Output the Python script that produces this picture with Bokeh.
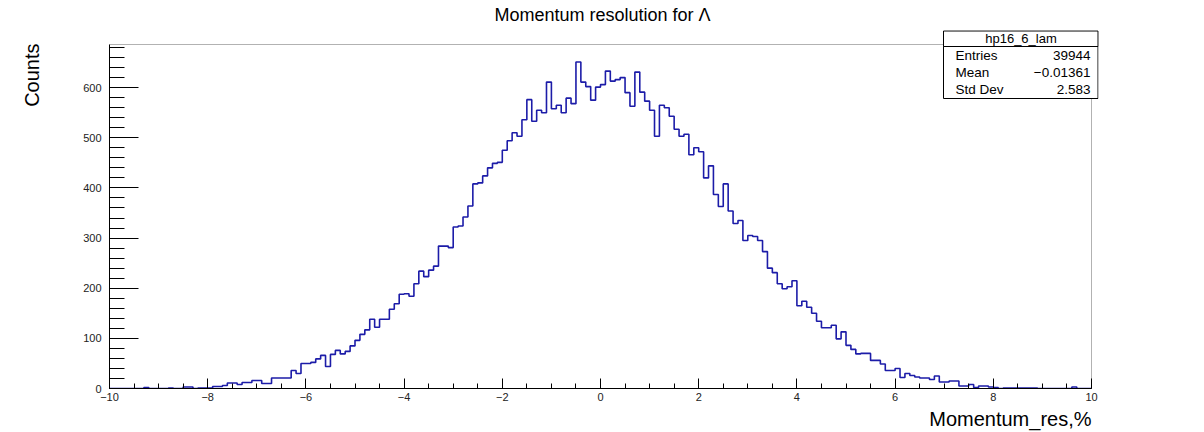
import numpy as np
from bokeh.plotting import figure
from bokeh.models import Label, BoxAnnotation, SingleIntervalTicker
from bokeh.embed import file_html
from bokeh.resources import INLINE

# ---------------- data ----------------
x_min, x_max = -10.0, 10.0
n_bins = 200
counts = [
    0, 0, 0, 0, 0, 0, 0, 2, 0, 0,
    0, 0, 1, 0, 0, 3, 3, 0, 1, 1,
    1, 4, 4, 6, 11, 11, 8, 12, 12, 16,
    16, 10, 10, 21, 21, 21, 21, 36, 30, 50,
    50, 52, 59, 66, 44, 68, 76, 69, 74, 85,
    96, 108, 117, 138, 122, 138, 138, 158, 169, 188,
    189, 184, 209, 234, 223, 236, 244, 284, 284, 281,
    322, 324, 342, 364, 408, 410, 424, 440, 449, 451,
    475, 494, 510, 503, 536, 576, 533, 555, 550, 611,
    558, 565, 550, 579, 568, 651, 611, 602, 575, 601,
    606, 633, 613, 616, 620, 590, 563, 631, 591, 573,
    555, 503, 565, 560, 543, 517, 503, 507, 466, 480,
    472, 420, 444, 387, 363, 408, 354, 329, 335, 295,
    305, 303, 295, 273, 240, 231, 209, 199, 203, 215,
    165, 174, 162, 150, 134, 121, 121, 126, 99, 113,
    86, 78, 69, 70, 70, 56, 56, 49, 36, 36,
    40, 22, 30, 26, 23, 21, 21, 18, 25, 13,
    13, 15, 15, 5, 5, 8, 2, 5, 5, 3,
    2, 0, 1, 1, 1, 1, 1, 1, 1, 0,
    0, 0, 0, 0, 0, 0, 3, 0, 0, 0,
]
x_ticks = [-10, -8, -6, -4, -2, 0, 2, 4, 6, 8, 10]
y_ticks = [0, 100, 200, 300, 400, 500, 600]
y_axis_max = 686
title_text = "Momentum resolution for \u039b"
x_title = "Momentum_res,%"
y_title = "Counts"
hist_name = "hp16_6_lam"
stat_names = ["Entries", "Mean", "Std Dev"]
stat_values = ["39944", "\u22120.01361", "2.583"]

# ---------------- layout (pixels) ----------------
W, H = 1204, 432
AX_L, AX_R = 109, 1091      # pixel of x_min / x_max
AX_B, AX_T = 388, 44        # pixel of 0 / y_axis_max
FR_R, FR_T = 1098, 30       # frame extends so that the stats box fits
FONT = "Liberation Sans"

PPX = (AX_R - AX_L) / (x_max - x_min)
PPY = (AX_B - AX_T) / y_axis_max


def X(px):
    return x_min + (px - AX_L) / PPX


def Y(py):
    return (AX_B - py) / PPY


edges = np.linspace(x_min, x_max, n_bins + 1)
step_y = list(counts) + [counts[-1]]

p = figure(width=W, height=H,
           x_range=(x_min, X(FR_R)), y_range=(0, Y(FR_T)),
           output_backend="svg", toolbar_location=None,
           min_border_left=AX_L, min_border_right=W - FR_R,
           min_border_top=FR_T, min_border_bottom=H - AX_B)
p.xgrid.visible = False
p.ygrid.visible = False
p.background_fill_color = "white"
p.border_fill_color = "white"
p.outline_line_color = None

p.step(x=edges, y=step_y, mode="after", line_color="#1c1ca8", line_width=1.6)

# ROOT-like frame around the axis area
p.add_layout(BoxAnnotation(left=x_min, right=x_max, bottom=0, top=y_axis_max,
                           fill_alpha=0, line_color="black", line_width=1))

# axes (ROOT style: ticks inside)
xa = p.xaxis[0]
xa.bounds = (x_min, x_max)
xa.ticker = SingleIntervalTicker(interval=2, num_minor_ticks=4)
xa.major_tick_in = 10
xa.major_tick_out = 0
xa.minor_tick_in = 5
xa.minor_tick_out = 0
xa.major_label_standoff = 4
xa.major_label_text_font = FONT
xa.major_label_text_font_size = "11px"
xa.major_label_text_color = "#222222"
xa.major_label_overrides = {t: (("\u2212" + str(abs(t))) if t < 0 else str(t)) for t in x_ticks}
xa.axis_line_color = "black"
xa.major_tick_line_color = "black"
xa.minor_tick_line_color = "black"

ya = p.yaxis[0]
ya.bounds = (0, y_axis_max)
ya.ticker = SingleIntervalTicker(interval=100, num_minor_ticks=5)
ya.major_tick_in = 29
ya.major_tick_out = 0
ya.minor_tick_in = 15
ya.minor_tick_out = 0
ya.major_label_standoff = 8
ya.major_label_text_font = FONT
ya.major_label_text_font_size = "11px"
ya.major_label_text_color = "#222222"
ya.major_label_overrides = {t: str(t) for t in y_ticks}
ya.axis_line_color = "black"
ya.major_tick_line_color = "black"
ya.minor_tick_line_color = "black"

# titles placed in the side panels (not clipped to the frame)
p.add_layout(Label(x=X(602), y=Y(14), text=title_text, text_align="center",
                   text_baseline="middle", text_font=FONT, text_font_size="18px",
                   text_color="black"), "above")
p.add_layout(Label(x=X(1091), y=Y(418), text=x_title, text_align="right",
                   text_baseline="middle", text_font=FONT, text_font_size="20px",
                   text_color="black"), "below")
p.add_layout(Label(x=X(31), y=Y(43), text=y_title, text_align="right",
                   text_baseline="middle", angle=np.pi / 2, text_font=FONT,
                   text_font_size="20px", text_color="black"), "left")

# stats box
p.add_layout(BoxAnnotation(left=X(943), right=X(1097.5), top=Y(30.5), bottom=Y(98),
                           fill_color="white", fill_alpha=1.0,
                           line_color="black", line_width=1, line_alpha=1.0))
p.add_layout(BoxAnnotation(left=X(943), right=X(1097.5), top=Y(30.5), bottom=Y(46),
                           fill_color="white", fill_alpha=1.0,
                           line_color="black", line_width=1, line_alpha=1.0))
p.add_layout(Label(x=X(1020.5), y=Y(37.5), text=hist_name, text_align="center",
                   text_baseline="middle", text_font=FONT, text_font_size="13px",
                   text_color="black"))
for i, (nm, vl) in enumerate(zip(stat_names, stat_values)):
    yy = Y(55 + 17 * i)
    p.add_layout(Label(x=X(955), y=yy, text=nm, text_align="left",
                       text_baseline="middle", text_font=FONT,
                       text_font_size="13.5px", text_color="black"))
    p.add_layout(Label(x=X(1090), y=yy, text=vl, text_align="right",
                       text_baseline="middle", text_font=FONT,
                       text_font_size="13.5px", text_color="black"))

open("out.html", "w").write(file_html(p, INLINE))
